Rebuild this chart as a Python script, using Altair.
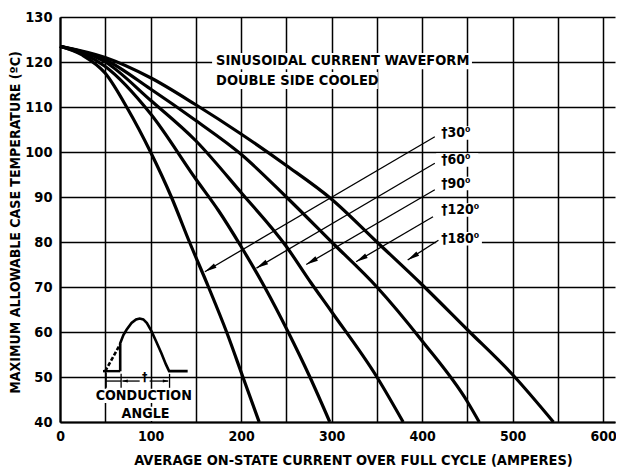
import math
import altair as alt
import pandas as pd

FONT = "Liberation Sans Narrow, DejaVu Sans Condensed, sans-serif"

# ---------------- data ----------------
x_30 = [0, 25, 50, 75, 100, 123, 143, 164, 184, 202, 220]
y_30 = [123.5, 121.5, 117.5, 109.5, 100, 90, 80, 70, 60, 50, 40]
x_60 = [0, 50, 100, 150, 175, 200, 226, 252, 276, 298]
y_60 = [123.5, 119, 108.5, 94, 87, 79, 70, 60, 50, 40]
x_90 = [0, 50, 100, 150, 200, 250, 277, 300, 350, 379]
y_90 = [123.5, 120, 111.5, 102.5, 91, 79, 71, 64.5, 50, 40]
x_120 = [0, 50, 100, 150, 200, 250, 300, 350, 400, 450, 463]
y_120 = [123.5, 120.5, 114, 107, 99.5, 90, 80, 70, 58, 44.5, 40]
x_180 = [0, 50, 100, 150, 200, 250, 300, 350, 400, 450, 500, 545]
y_180 = [123.5, 121, 116.5, 110.5, 104, 97, 89.5, 80, 70.5, 60.5, 50.5, 40]

curve_names = ["30", "60", "90", "120", "180"]
curve_xs = [x_30, x_60, x_90, x_120, x_180]
curve_ys = [y_30, y_60, y_90, y_120, y_180]

label_texts = ["\u202030\u2070", "\u202060\u2070", "\u202090\u2070", "\u2020120\u2070", "\u2020180\u2070"]
label_x = [421, 421, 421, 421, 421]
label_y = [104.2, 98.2, 93.0, 87.1, 80.7]
arrow_x0 = [414, 414, 414, 412, 418]
arrow_y0 = [103.4, 97.5, 91.6, 85.6, 80.4]
arrow_x1 = [160, 217, 272, 327, 384]
arrow_y1 = [73.4, 74.2, 75.0, 75.6, 76.0]

x_ticks = list(range(0, 601, 50))
y_ticks = list(range(40, 131, 10))

# inset waveform
hump_x = [66.5, 66.5, 70, 73.5, 79, 84, 88, 92, 96, 101, 106, 112, 117, 120.5, 141]
hump_y = [51.3, 57.5, 59.3, 60.5, 62, 62.8, 63, 62.8, 62, 60.2, 58, 55.3, 52.8, 51.3, 51.3]
dash_x = [50, 66.5]
dash_y = [51.3, 57.3]

# ---------------- layout ----------------
W, H = 555, 405
XMAX = 613
X_DOM = [0, XMAX]
Y_DOM = [40, 130]
SX = W / XMAX
SY = H / (Y_DOM[1] - Y_DOM[0])

xs = alt.Scale(domain=X_DOM, nice=False, zero=False)
ys = alt.Scale(domain=Y_DOM, nice=False, zero=False)

rows = []
for name, cx, cy in zip(curve_names, curve_xs, curve_ys):
    for i, (a, b) in enumerate(zip(cx, cy)):
        rows.append({"angle": name, "i": i, "x": a, "y": b})
curves_df = pd.DataFrame(rows)

x_axis = alt.Axis(
    values=x_ticks,
    labelExpr="datum.value % 100 == 0 ? datum.label : ''",
    grid=True, gridColor="black", gridWidth=1.5, gridOpacity=1,
    ticks=False, tickSize=0,
    domain=True, domainColor="black", domainWidth=2.2,
    labelFont=FONT, labelFontSize=14, labelFontWeight="bold", labelColor="black",
    labelPadding=7, labelFlush=False,
    title="AVERAGE ON-STATE CURRENT OVER FULL CYCLE (AMPERES)",
    titleFont=FONT, titleFontSize=14.5, titleFontWeight="bold", titleColor="black",
    titleX=293, titleY=38, titleAlign="center", titleBaseline="middle", titleAnchor="start",
)
y_axis = alt.Axis(
    values=y_ticks,
    grid=True, gridColor="black", gridWidth=1.5, gridOpacity=1,
    ticks=False, tickSize=0,
    domain=True, domainColor="black", domainWidth=2.2,
    labelFont=FONT, labelFontSize=14.5, labelFontWeight="bold", labelColor="black",
    labelPadding=8, labelFlush=False,
    title="MAXIMUM ALLOWABLE CASE TEMPERATURE (\u00baC)",
    titleFont=FONT, titleFontSize=14, titleFontWeight="bold", titleColor="black",
    titleAngle=270, titleX=-45, titleY=205, titleAlign="center", titleBaseline="middle",
    titleAnchor="start",
)

curves = alt.Chart(curves_df).mark_line(color="black", strokeWidth=3.2, interpolate="monotone").encode(
    detail="angle:N",
    order="i:Q",
)

# white knock-out boxes behind texts
boxes_df = pd.DataFrame({
    "x": [168, 170, 415.5, 415.5, 415.5, 415.5, 415.5, 37.5, 64.5],
    "x2": [455, 351, 462, 462, 462, 466, 466, 146, 123.5],
    "y": [122.0, 117.8, 105.7, 99.7, 94.5, 88.6, 82.2, 47.4, 43.4],
    "y2": [118.4, 114.0, 102.7, 96.7, 91.5, 85.6, 79.2, 44.2, 40.2],
})
boxes = alt.Chart(boxes_df).mark_rect(color="white").encode(x2="x2:Q", y2="y2:Q")

title_df = pd.DataFrame({
    "x": [172.4, 172.4],
    "y": [120.3, 115.8],
    "t": ["SINUSOIDAL CURRENT WAVEFORM", "DOUBLE SIDE COOLED"],
})
title_txt = alt.Chart(title_df).mark_text(
    font=FONT, fontSize=14.5, fontWeight="bold", color="black", align="left", baseline="middle"
).encode(text="t:N")

lab_df = pd.DataFrame({"x": label_x, "y": label_y, "t": label_texts})
labels = alt.Chart(lab_df).mark_text(
    font=FONT, fontSize=14, fontWeight="bold", color="black", align="left", baseline="middle"
).encode(text="t:N")

arr_df = pd.DataFrame({"x": arrow_x0, "y": arrow_y0, "x2": arrow_x1, "y2": arrow_y1})
arrows = alt.Chart(arr_df).mark_rule(color="black", strokeWidth=1.3).encode(x2="x2:Q", y2="y2:Q")

head_angles = []
for a0, b0, a1, b1 in zip(arrow_x0, arrow_y0, arrow_x1, arrow_y1):
    dx = (a1 - a0) * SX
    dy = -(b1 - b0) * SY
    head_angles.append(math.degrees(math.atan2(dx, -dy)) % 360)
head_df = pd.DataFrame({"x": arrow_x1, "y": arrow_y1, "a": head_angles})
heads = alt.Chart(head_df).mark_point(
    shape="M0,0L-0.42,2L0.42,2Z", filled=True, color="black", opacity=1, size=144, strokeWidth=0
).encode(angle=alt.Angle("a:Q", scale=None))

# ---------------- inset waveform ----------------
hump_df = pd.DataFrame({"x": hump_x, "y": hump_y, "i": list(range(len(hump_x)))})
hump = alt.Chart(hump_df).mark_line(color="black", strokeWidth=2.6).encode(order="i:Q")
base_left = alt.Chart(pd.DataFrame({"x": [47.5], "x2": [66.5], "y": [51.3]})).mark_rule(
    color="black", strokeWidth=2.4
).encode(x2="x2:Q")
dash = alt.Chart(pd.DataFrame({"x": dash_x, "y": dash_y})).mark_line(
    color="black", strokeWidth=2.6, strokeDash=[4, 2]
).encode(order=alt.value(0))

dim_df = pd.DataFrame({
    "x": [51, 67.5, 121, 51, 69, 99],
    "x2": [51, 67.5, 121, 67.5, 88, 119.5],
    "y": [51.0, 50.7, 50.7, 49.1, 49.1, 49.1],
    "y2": [47.6, 47.6, 47.6, 49.1, 49.1, 49.1],
})
dims = alt.Chart(dim_df).mark_rule(color="black", strokeWidth=1.3).encode(x2="x2:Q", y2="y2:Q")
dim_heads = alt.Chart(pd.DataFrame({"x": [68.3, 120.2], "y": [49.1, 49.1], "a": [270, 90]})).mark_point(
    shape="M0,0L-0.5,2L0.5,2Z", filled=True, color="black", opacity=1, size=36, strokeWidth=0
).encode(angle=alt.Angle("a:Q", scale=None))
inset_txt = alt.Chart(pd.DataFrame({
    "x": [93.5, 92.5, 94.5], "y": [50.0, 45.8, 41.8], "t": ["\u2020", "CONDUCTION", "ANGLE"],
    "s": [12, 14.2, 14.2],
})).mark_text(font=FONT, fontWeight="bold", color="black", align="center", baseline="middle").encode(
    text="t:N", size=alt.Size("s:Q", scale=None),
)

chart = alt.layer(
    curves, boxes, title_txt, labels, arrows, heads,
    hump, base_left, dash, dims, dim_heads, inset_txt,
).encode(
    x=alt.X("x:Q", scale=xs, axis=x_axis),
    y=alt.Y("y:Q", scale=ys, axis=y_axis),
).properties(
    width=W, height=H,
    padding={"left": 52, "top": 9, "right": 1, "bottom": 48},
    autosize=alt.AutoSizeParams(type="none"),
    background="white",
).configure_view(stroke=None)

chart.save("out.html", embed_options={"renderer": "svg", "actions": False})
